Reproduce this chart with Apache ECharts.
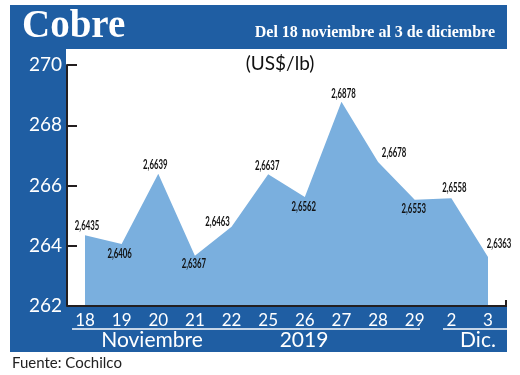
<!DOCTYPE html>
<html>
<head>
<meta charset="utf-8">
<script src="https://cdn.jsdelivr.net/npm/echarts@6/dist/echarts.min.js"></script>
<style>
html,body{margin:0;padding:0;background:#fff;}
#c{width:520px;height:375px;}
</style>
</head>
<body>
<div id="c"></div>
<script>
// ---- data ----
const categories = ['18','19','20','21','22','25','26','27','28','29','2','3'];
const values = [264.35, 264.06, 266.39, 263.67, 264.63, 266.37, 265.62, 268.78, 266.78, 265.53, 265.58, 263.63];
const yTicks = [262, 264, 266, 268, 270];
const titleText = 'Cobre';
const subtitleText = 'Del 18 noviembre al 3 de diciembre';
const unitText = '(US$/lb)';
const monthNov = 'Noviembre';
const yearText = '2019';
const monthDic = 'Dic.';
const sourceText = 'Fuente: Cochilco';

// label offsets from their point, in px (layout, not data)
const labelOffsets = [
  [2,-9], [-2,10], [-3,-9], [-1,8], [-14,-5], [-1,-9],
  [-1,10], [2,-8], [16,-9], [-1,9], [3,-10], [11,-13]
];

const BLUE = '#1f5ea3';
const AREA = '#7aafde';
const DARK = '#231f20';
const FONT = 'Lato, "Open Sans", sans-serif';

const chart = echarts.init(document.getElementById('c'), null, {renderer:'canvas'});

chart.setOption({
  animation: false,
  backgroundColor: '#fff',
  grid: {left: 85, right: 32, top: 65, bottom: 69, containLabel: false},
  xAxis: {
    type: 'category',
    data: categories,
    boundaryGap: false,
    axisLine: {show: false},
    axisTick: {show: false},
    axisLabel: {color: '#fff', fontSize: 17, fontFamily: FONT, margin: 6},
    splitLine: {show: false},
    z: 10
  },
  yAxis: {
    type: 'value',
    min: yTicks[0],
    max: yTicks[yTicks.length - 1],
    interval: 2,
    offset: 18,
    axisLine: {show: true, lineStyle: {color: DARK, width: 2}},
    axisTick: {show: true, inside: true, length: 10, lineStyle: {color: DARK, width: 2}},
    axisLabel: {color: '#fff', fontSize: 19, fontFamily: FONT, margin: 5},
    splitLine: {show: false},
    z: 10
  },
  graphic: [
    {type:'rect', shape:{x:10, y:5, width:497, height:347}, style:{fill:BLUE}, z:-10, silent:true},
    {type:'rect', shape:{x:66, y:49, width:441, height:257}, style:{fill:'#fff'}, z:-9, silent:true},
    {type:'text', style:{x:22, y:27, text:titleText, fill:'#fff', font:'bold 39px "Liberation Serif", "DejaVu Serif", serif', verticalAlign:'middle', textVerticalAlign:'middle'}, z:20},
    {type:'text', style:{x:495, y:33, text:subtitleText, fill:'#fff', font:'bold 16px "Liberation Serif", "DejaVu Serif", serif', align:'right', textAlign:'right', verticalAlign:'middle', textVerticalAlign:'middle'}, z:20},
    {type:'text', style:{x:280, y:64, text:unitText, fill:'#111', font:'19px ' + FONT, align:'center', textAlign:'center', verticalAlign:'middle', textVerticalAlign:'middle'}, z:20},
    {type:'polyline', shape:{points:[[67,306],[506,306],[506,300]]}, style:{stroke:DARK, lineWidth:2, fill:null}, z:30},
    {type:'line', shape:{x1:72, y1:329, x2:420, y2:329}, style:{stroke:'#fff', lineWidth:1.5}, z:20},
    {type:'line', shape:{x1:443, y1:329, x2:507, y2:329}, style:{stroke:'#fff', lineWidth:1.5}, z:20},
    {type:'text', style:{x:152, y:340, text:monthNov, fill:'#fff', font:'21px ' + FONT, align:'center', textAlign:'center', verticalAlign:'middle', textVerticalAlign:'middle'}, z:20},
    {type:'text', style:{x:304, y:340, text:yearText, fill:'#fff', font:'21px ' + FONT, align:'center', textAlign:'center', verticalAlign:'middle', textVerticalAlign:'middle'}, z:20},
    {type:'text', style:{x:478, y:340, text:monthDic, fill:'#fff', font:'21px ' + FONT, align:'center', textAlign:'center', verticalAlign:'middle', textVerticalAlign:'middle'}, z:20},
    {type:'text', style:{x:12, y:363, text:sourceText, fill:'#222', font:'15px ' + FONT, verticalAlign:'middle', textVerticalAlign:'middle'}, z:20}
  ],
  series: [{
    type: 'line',
    data: values,
    symbol: 'none',
    lineStyle: {width: 0, color: AREA},
    itemStyle: {color: AREA},
    areaStyle: {color: AREA, opacity: 1, origin: 'start'},
    z: 5
  }, {
    type: 'custom',
    data: values.map((v, i) => [i, v]),
    z: 8,
    renderItem: function (params, api) {
      const i = params.dataIndex;
      const v = api.value(1);
      const p = api.coord([api.value(0), v]);
      const off = labelOffsets[i];
      return {
        type: 'text',
        x: p[0] + off[0],
        y: p[1] + off[1],
        scaleX: 0.6,
        style: {
          text: (v / 100).toFixed(4).replace('.', ','),
          fill: '#111',
          font: 'bold 13px Lato, "DejaVu Sans Condensed", sans-serif',
          align: 'center',
          verticalAlign: 'middle'
        }
      };
    }
  }]
});
</script>
</body>
</html>
